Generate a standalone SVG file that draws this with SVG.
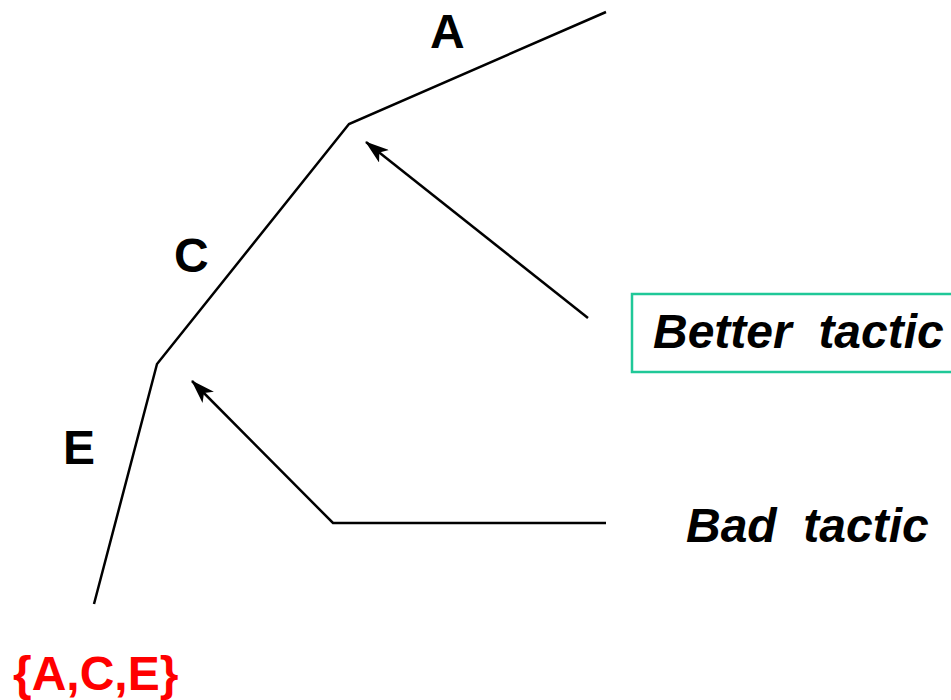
<svg xmlns="http://www.w3.org/2000/svg" width="951" height="700" viewBox="0 0 951 700">
<style>
.ln{fill:none;stroke:#000;stroke-width:2.5}
.t{font-family:"Liberation Sans",Arial,sans-serif;font-weight:bold;font-size:48px;fill:#000}
.it{font-style:italic}
</style>
<defs>
<marker id="ah" viewBox="0 0 24 16" refX="23" refY="8" markerWidth="24" markerHeight="16" markerUnits="userSpaceOnUse" orient="auto">
<path d="M0,0 L24,8 L0,16 L6,8 Z" fill="#000"/>
</marker>
</defs>
<rect width="951" height="700" fill="#fff"/>
<g id="connectors">
<path class="ln" d="M94,604 L157,364 L349,124 L606,12"/>
<path class="ln" d="M588,318 L366,142" marker-end="url(#ah)"/>
<path class="ln" d="M606,523 L333,523 L192,381" marker-end="url(#ah)"/>
</g>
<g id="labelA"><text class="t" x="430" y="48">A</text></g>
<g id="labelC"><text class="t" x="174" y="272">C</text></g>
<g id="labelE"><text class="t" x="63" y="464">E</text></g>
<g id="better">
<rect x="632" y="294" width="330" height="78" fill="none" stroke="#20c898" stroke-width="2.5"/>
<text class="t it" x="653" y="348" xml:space="preserve">Better  tactic</text>
</g>
<g id="bad"><text class="t it" x="686" y="542" xml:space="preserve">Bad  tactic</text></g>
<g id="set"><text class="t" x="13" y="690" style="fill:#ff0000">{A,C,E}</text></g>
</svg>
